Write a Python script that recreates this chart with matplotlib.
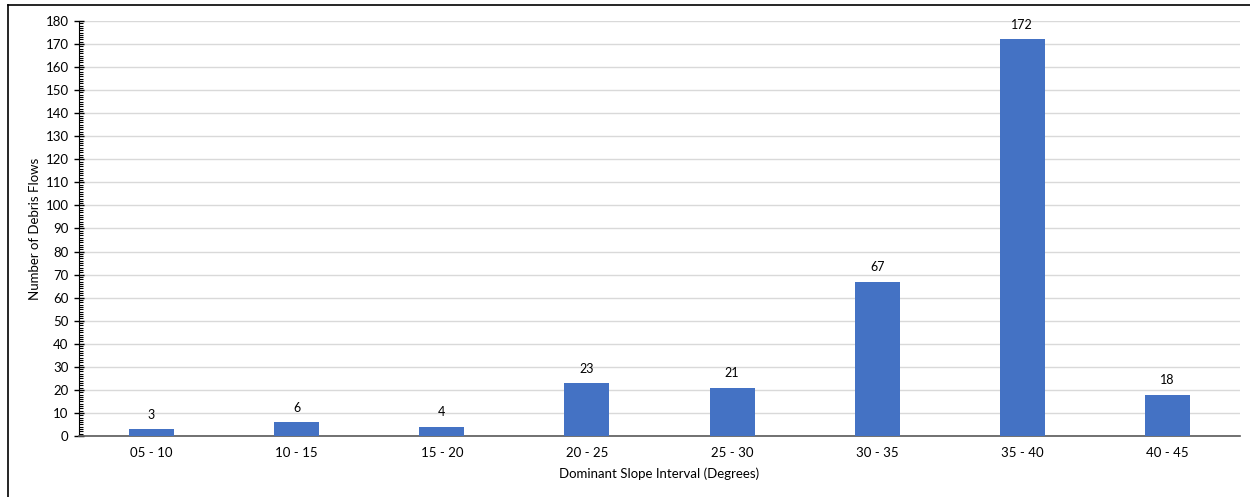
import matplotlib.pyplot as plt
from matplotlib.ticker import MultipleLocator
from matplotlib.lines import Line2D

# slope classes and debris-flow counts
slope_intervals = ["05 - 10", "10 - 15", "15 - 20", "20 - 25",
                   "25 - 30", "30 - 35", "35 - 40", "40 - 45"]
flow_counts = [3, 6, 4, 23, 21, 67, 172, 18]

plt.rcParams['font.family'] = ['Lato', 'DejaVu Sans']

fig = plt.figure(figsize=(12.5, 4.97), dpi=100)
ax = fig.add_axes([79 / 1250, 1 - 436 / 497, (1240 - 79) / 1250, (436 - 21) / 497])

x = range(len(slope_intervals))
bars = ax.bar(x, flow_counts, width=0.31, color="#4472C4", zorder=3)
for b, v in zip(bars, flow_counts):
    ax.annotate(str(v), (b.get_x() + b.get_width() / 2, v), xytext=(0, 6),
                textcoords="offset points", ha="center", va="bottom", fontsize=9)

ax.set_xlim(-0.5, len(slope_intervals) - 0.5)
ax.set_ylim(0, 180)
ax.set_xticks(list(x))
ax.set_xticklabels(slope_intervals, fontsize=9.5)
ax.yaxis.set_major_locator(MultipleLocator(10))
ax.yaxis.set_minor_locator(MultipleLocator(1))
ax.tick_params(axis="y", which="major", direction="inout", length=7, width=1, labelsize=9.5, pad=4)
ax.tick_params(axis="y", which="minor", direction="in", length=3, width=0.8)
ax.tick_params(axis="x", length=0, pad=8)
ax.grid(axis="y", color="#d9d9d9", linewidth=1, zorder=0)

for side in ("top", "right"):
    ax.spines[side].set_visible(False)
ax.spines["left"].set_color("black")
ax.spines["bottom"].set_color("#595959")
ax.spines["bottom"].set_linewidth(1.2)

ax.set_xlabel("Dominant Slope Interval (Degrees)", fontsize=9.5, labelpad=6)
ax.set_ylabel("Number of Debris Flows", fontsize=9.5, labelpad=3)

# outer frame: top and left edges
fig.add_artist(Line2D([8 / 1250, 1], [1 - 5 / 497, 1 - 5 / 497], color="black", lw=1.2, transform=fig.transFigure))
fig.add_artist(Line2D([8 / 1250, 8 / 1250], [0, 1 - 5 / 497], color="black", lw=1.2, transform=fig.transFigure))

fig.savefig("out.png", dpi=100)
